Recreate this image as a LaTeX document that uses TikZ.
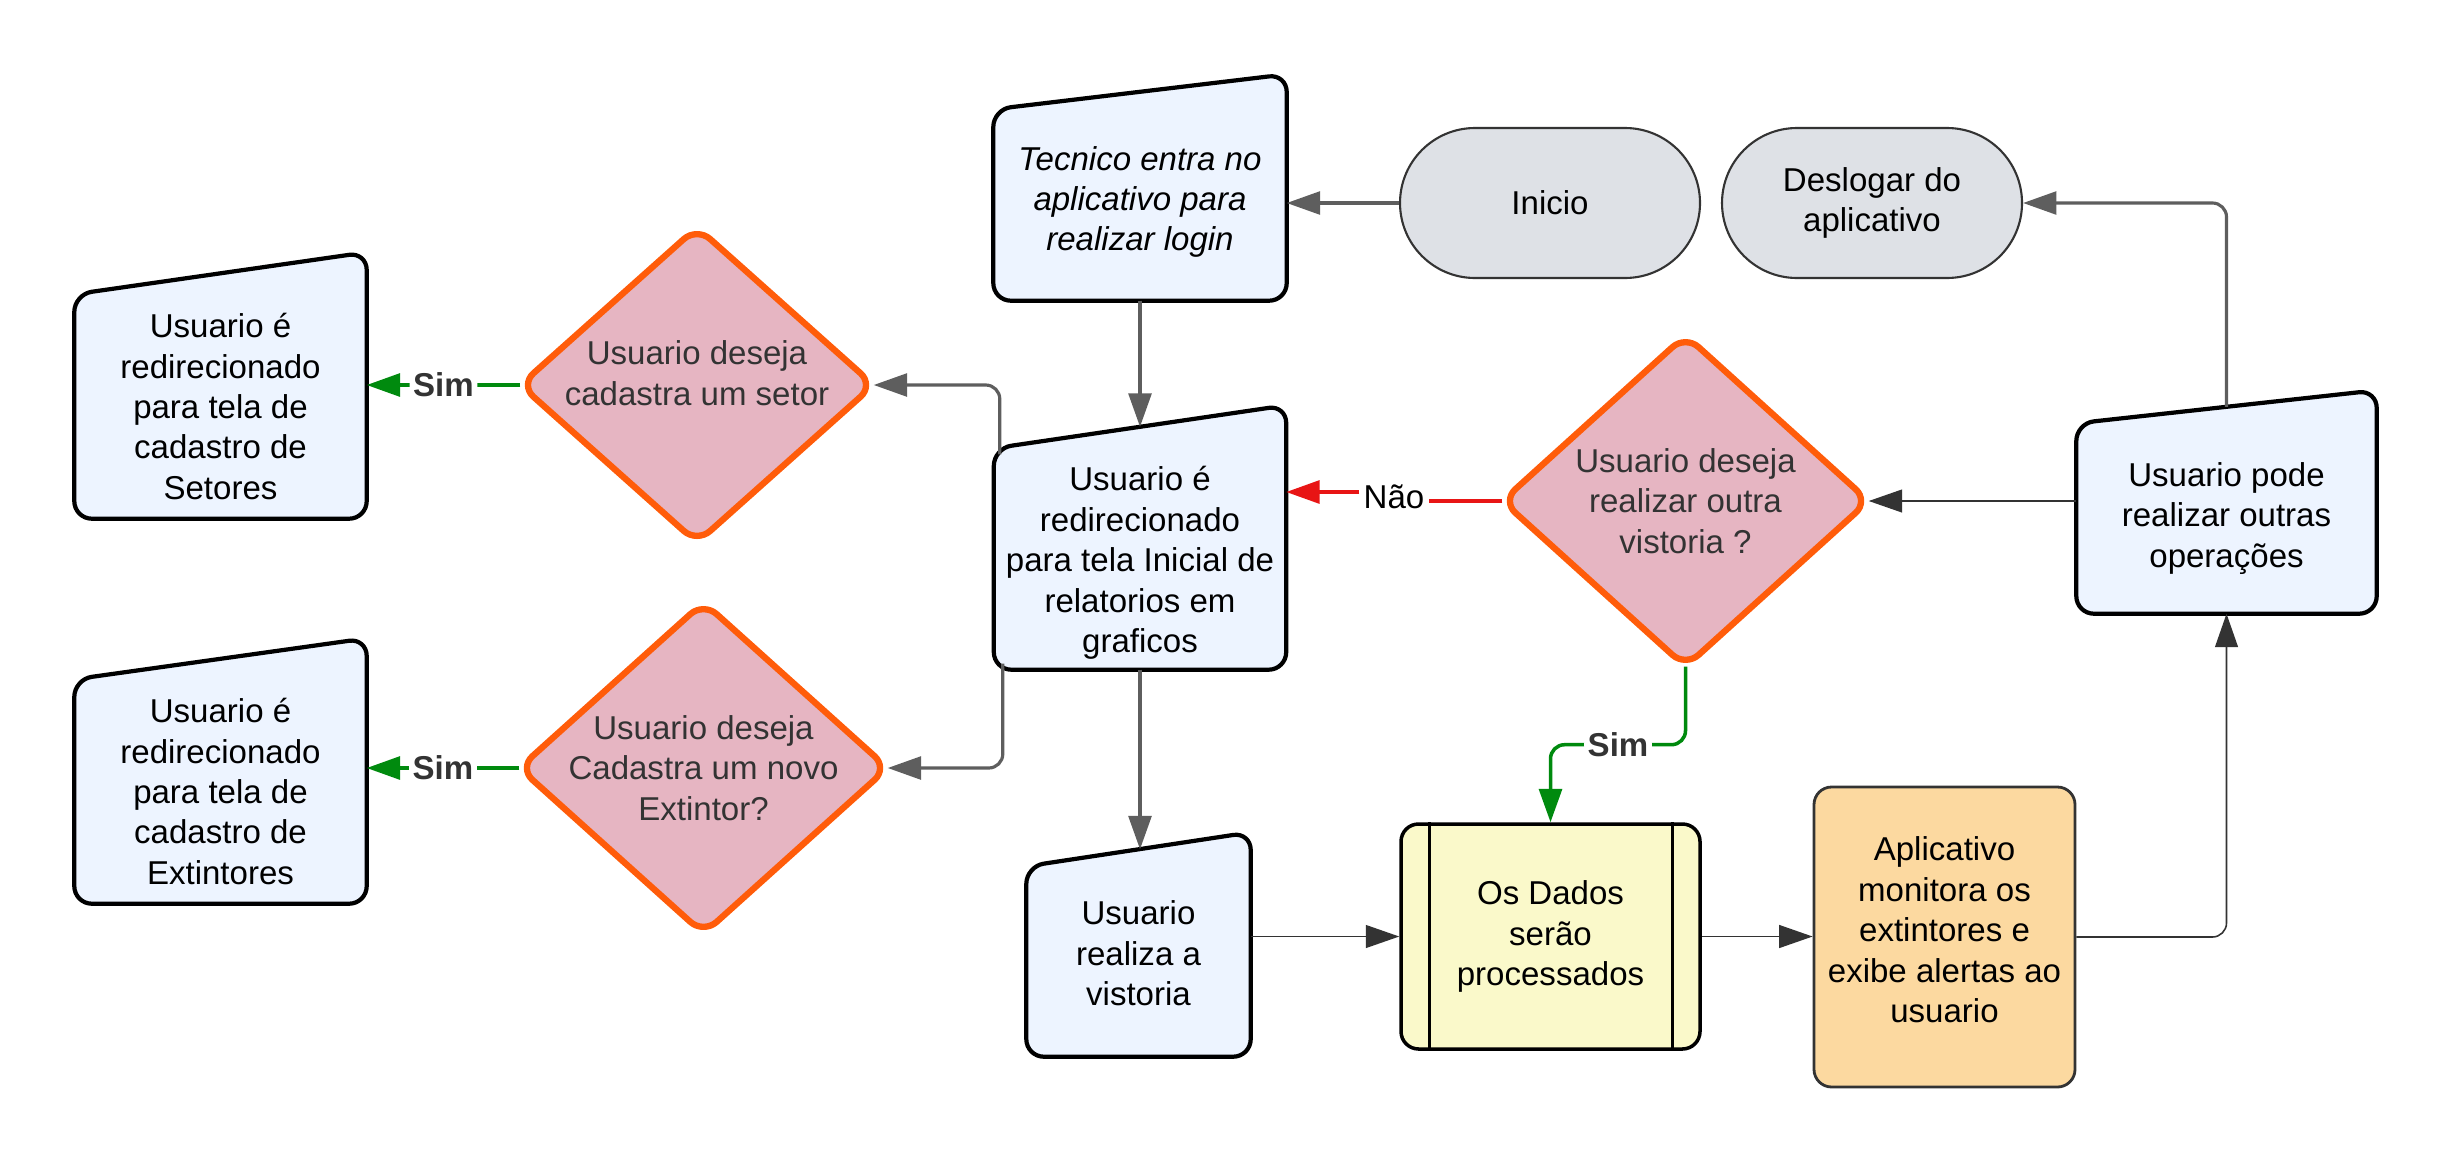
\documentclass[tikz,border=0pt]{standalone}
\usepackage{fontspec}
\setmainfont{Liberation Sans}
\usetikzlibrary{arrows.meta,backgrounds}

\definecolor{boxblue}{HTML}{EDF4FF}
\definecolor{decpink}{HTML}{E6B5C2}
\definecolor{decorange}{HTML}{FF5C0A}
\definecolor{termgray}{HTML}{DEE1E6}
\definecolor{txtgray}{HTML}{333333}
\definecolor{linkgray}{HTML}{5E5E5E}
\definecolor{simgreen}{HTML}{008A0E}
\definecolor{naored}{HTML}{E81515}
\definecolor{procyellow}{HTML}{FAF9CA}
\definecolor{alertorange}{HTML}{FCD9A0}

\newcommand\flowfont{\fontsize{9.4}{11.5}\selectfont}
% outline of a "manual input" box: top edge rises to the right
\newcommand\manualshape[2]{\draw[manualline] (#1.south west) -- (#1.north west) -- ([yshift=#2]#1.north east) -- (#1.south east) -- cycle;}
\newcommand\decshape[1]{\draw[decline] (#1.north) -- (#1.east) -- (#1.south) -- (#1.west) -- cycle;}

\tikzset{
    manual/.style={align=center, inner sep=0pt, font=\flowfont},
    manualline/.style={draw=black, line width=1.2pt, fill=boxblue, rounded corners=5pt},
    boxtext/.style={align=center, inner sep=0pt, font=\flowfont},
    decision/.style={align=center, inner sep=0pt, text=txtgray, font=\flowfont},
    decline/.style={draw=decorange, line width=1.8pt, fill=decpink, rounded corners=5pt, line join=round},
    terminal/.style={draw=txtgray, line width=0.6pt, fill=termgray, rounded corners=0.75cm,
        minimum width=3cm, minimum height=1.5cm, align=center, font=\flowfont},
    process/.style={draw=black, line width=1pt, fill=procyellow, rounded corners=5pt,
        align=center, inner sep=0pt, font=\flowfont},
    alert/.style={draw=txtgray, line width=0.8pt, fill=alertorange, rounded corners=5pt,
        align=center, inner sep=0pt, font=\flowfont},
    link/.style={draw=linkgray, line width=0.9pt, rounded corners=4pt, -{Triangle[length=9.5pt,width=6.5pt]}},
    thinlink/.style={link, draw=txtgray, line width=0.45pt},
    yes/.style={link, draw=simgreen, line width=1pt},
    no/.style={link, draw=naored, line width=1pt},
    lbl/.style={fill=white, inner sep=1pt, font=\flowfont\bfseries, text=txtgray},
}

\begin{document}
\begin{tikzpicture}
    \useasboundingbox (0,0) rectangle (24.51,-11.63);

    % nodes
    \node[manual, minimum width=2.92cm, minimum height=1.90cm, font=\flowfont\itshape,
        label={[boxtext,font=\flowfont\itshape,yshift=0.03cm]center:{Tecnico entra no\\aplicativo para\\realizar login}}]
        (tecnico) at (11.40,-2.05) {};
    \node[terminal] (inicio) at (15.50,-2.03) {Inicio};
    \node[terminal] (deslogar) at (18.72,-2.03) {Deslogar do\\aplicativo};

    \node[manual, minimum width=2.91cm, minimum height=2.20cm,
        label={[boxtext,yshift=-0.04cm]center:{Usuario é\\redirecionado\\para tela Inicial de\\relatorios em\\graficos}}]
        (central) at (11.40,-5.59) {};
    \node[decision, minimum width=3.52cm, minimum height=3.14cm,
        label={[boxtext,text=txtgray,yshift=0.12cm]center:{Usuario deseja\\cadastra um setor}}]
        (sdec) at (6.97,-3.85) {};
    \node[decision, minimum width=3.67cm, minimum height=3.30cm] (edec) at (7.035,-7.68)
        {Usuario deseja\\Cadastra um novo\\Extintor?};
    \node[manual, minimum width=2.91cm, minimum height=2.23cm] (setores) at (2.205,-4.065)
        {Usuario é\\redirecionado\\para tela de\\cadastro de\\Setores};
    \node[manual, minimum width=2.91cm, minimum height=2.23cm] (extint) at (2.205,-7.915)
        {Usuario é\\redirecionado\\para tela de\\cadastro de\\Extintores};

    \node[decision, minimum width=3.65cm, minimum height=3.30cm] (vdec) at (16.855,-5.01)
        {Usuario deseja\\realizar outra\\vistoria ?};
    \node[manual, minimum width=2.99cm, minimum height=1.89cm] (pode) at (22.265,-5.185)
        {Usuario pode\\realizar outras\\operações};

    \node[manual, minimum width=2.23cm, minimum height=1.89cm,
        label={[boxtext,yshift=0.08cm]center:{Usuario\\realiza a\\vistoria}}]
        (vist) at (11.385,-9.615) {};
    \node[process, minimum width=2.99cm, minimum height=2.25cm] (dados) at (15.505,-9.365)
        {Os Dados\\serão\\processados};
    \node[alert, minimum width=2.61cm, minimum height=3.00cm,
        label={[boxtext,yshift=0.07cm]center:{Aplicativo\\monitora os\\extintores e\\exibe alertas ao\\usuario}}]
        (aplic) at (19.445,-9.37) {};

    \draw[line width=0.8pt] ([xshift=0.3cm]dados.north west) -- ([xshift=0.3cm]dados.south west);
    \draw[line width=0.8pt] ([xshift=-0.29cm]dados.north east) -- ([xshift=-0.29cm]dados.south east);

    % shapes behind the texts
    \begin{scope}[on background layer]
        \manualshape{tecnico}{0.35cm}
        \manualshape{central}{0.43cm}
        \manualshape{setores}{0.42cm}
        \manualshape{extint}{0.41cm}
        \manualshape{pode}{0.33cm}
        \manualshape{vist}{0.34cm}
        \decshape{sdec}
        \decshape{edec}
        \decshape{vdec}
    \end{scope}

    % connectors
    \draw[link] (inicio.west) -- (inicio.west -| tecnico.east);
    \draw[link] (tecnico.south) -- ([yshift=0.215cm]central.north);
    \draw[link] ([xshift=0.06cm,yshift=-0.06cm]central.north west) |- (sdec.east);
    \draw[link] ([xshift=0.09cm,yshift=0.06cm]central.south west) |- (edec.east);
    \draw[link] (central.south) -- ([yshift=0.17cm]vist.north -| central.south);

    \draw[yes] (sdec.west) -- (sdec.west -| setores.east) node[pos=0.5,lbl] {Sim};
    \draw[yes] (edec.west) -- (edec.west -| extint.east) node[pos=0.5,lbl] {Sim};

    \node[lbl, font=\flowfont, text=black] (nao) at (13.94,-4.97) {Não};
    \draw[no,-] (vdec.west) -- (vdec.west -| nao.east);
    \draw[no] ([yshift=0.05cm]nao.west) -- ([yshift=0.05cm]nao.west -| central.east);

    \draw[yes] (vdec.south) -- ++(0,-0.78) -| (dados.north) node[pos=0.25,lbl] {Sim};

    \draw[thinlink] (vist.east |- dados.west) -- (dados.west);
    \draw[thinlink] (dados.east) -- (dados.east -| aplic.west);
    \draw[thinlink] (aplic.east) -| (pode.south);
    \draw[thinlink] (pode.west |- vdec.east) -- (vdec.east);
    \draw[link] ([yshift=0.165cm]pode.north) |- (deslogar.east);
\end{tikzpicture}
\end{document}
